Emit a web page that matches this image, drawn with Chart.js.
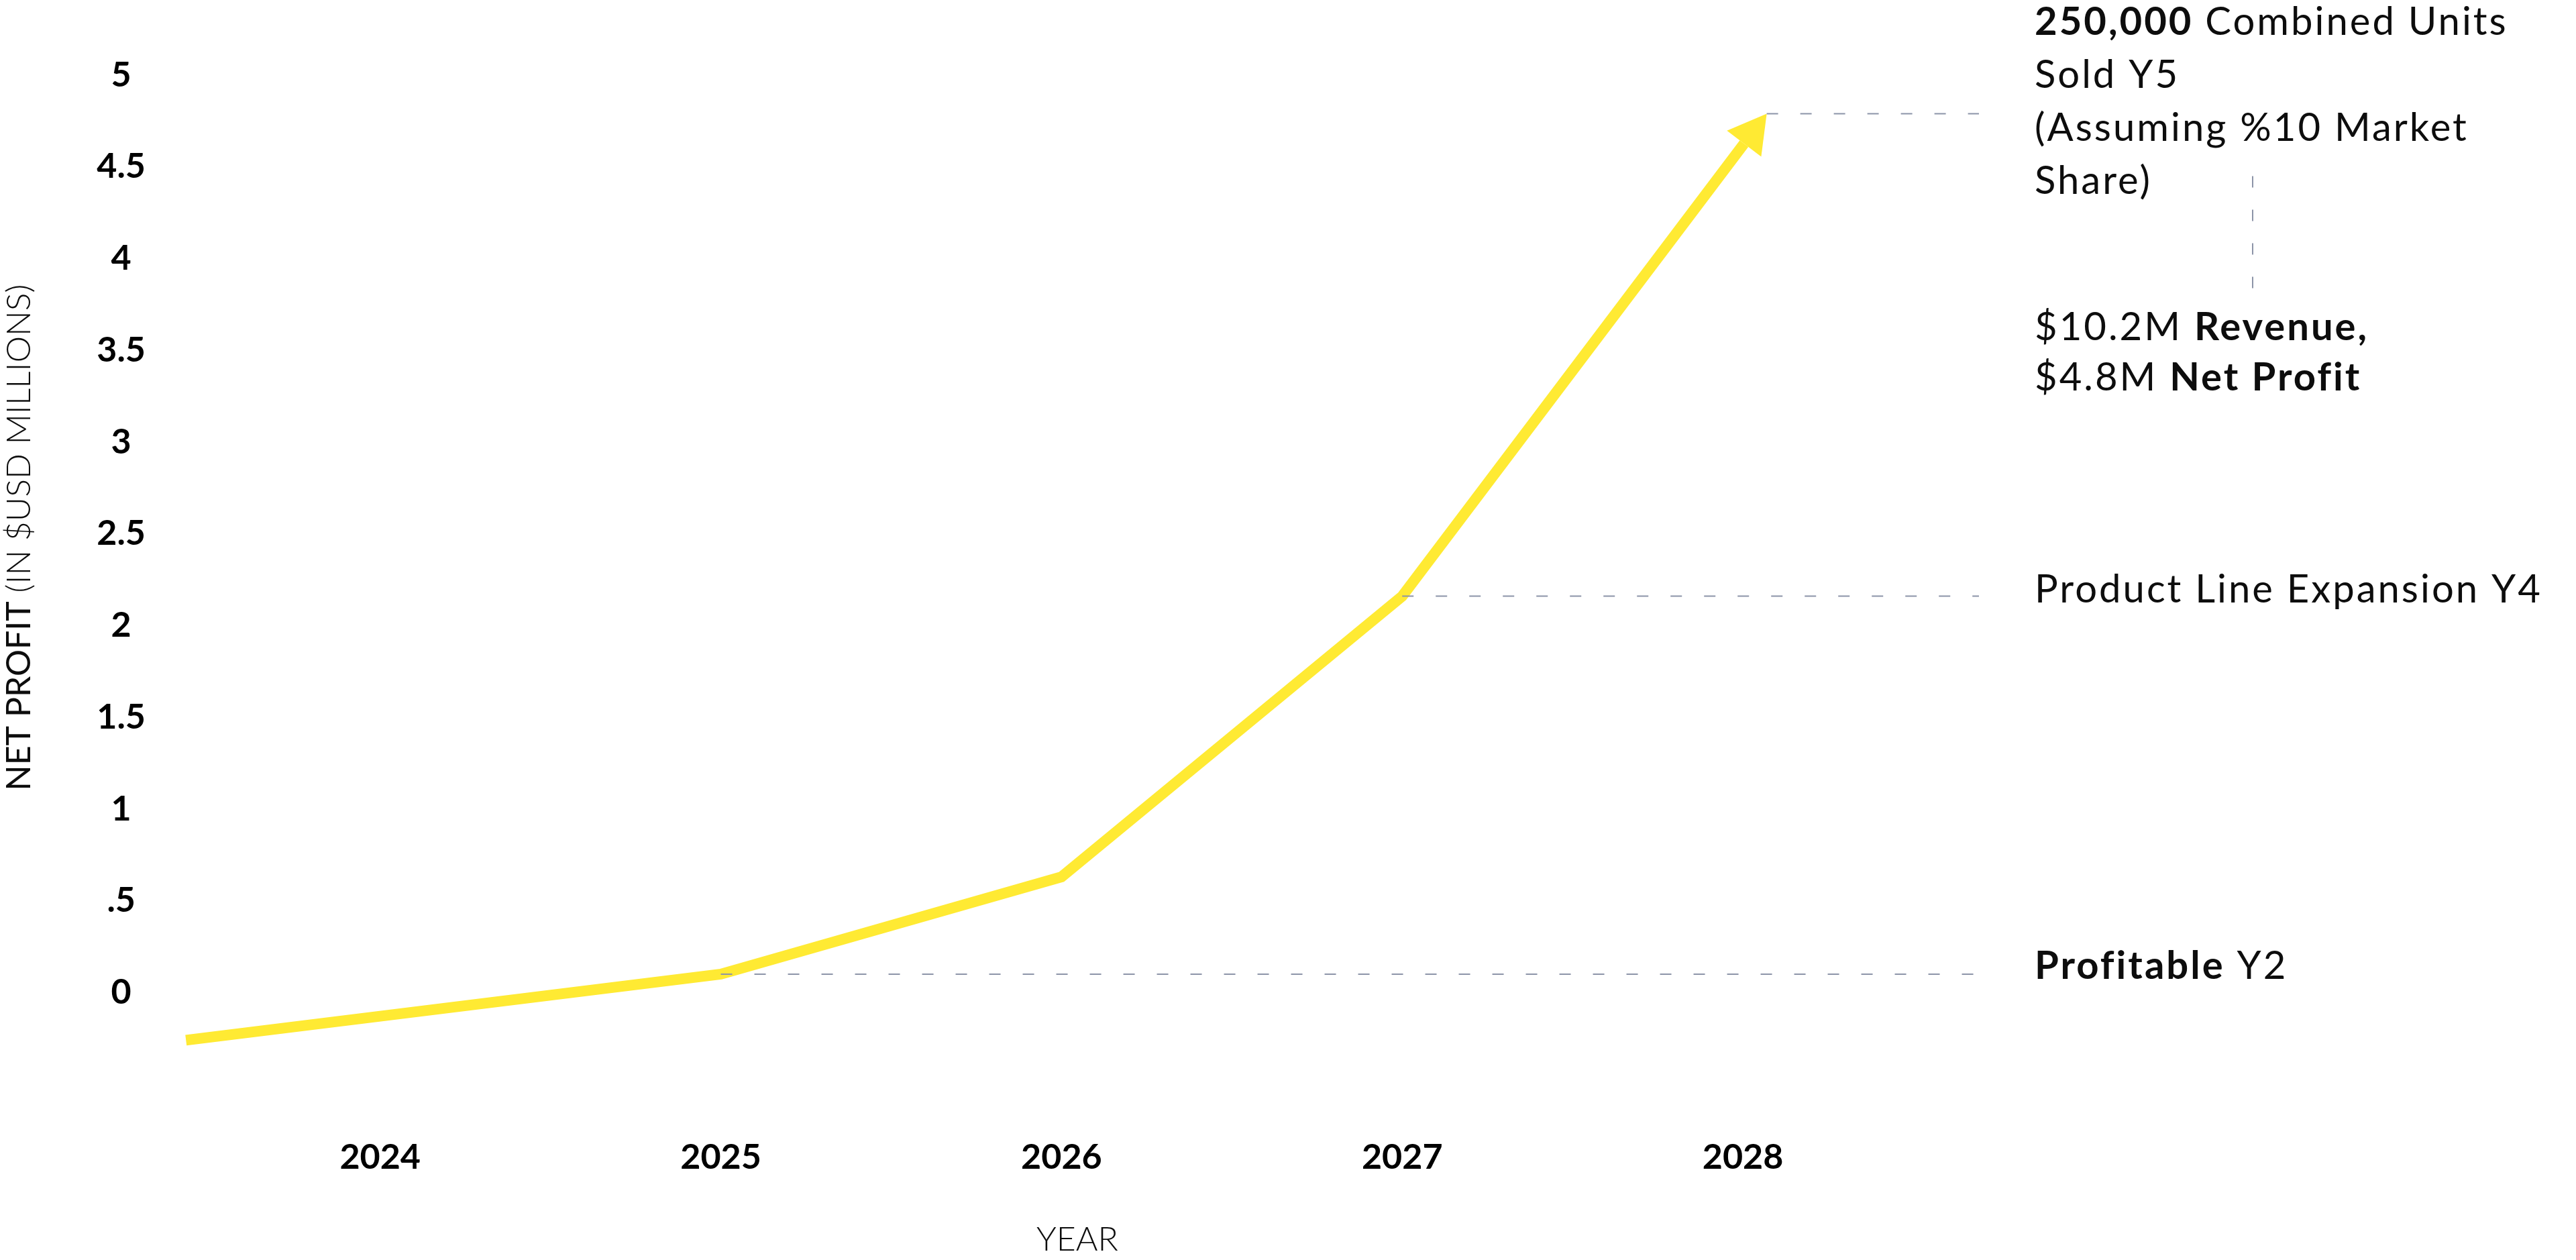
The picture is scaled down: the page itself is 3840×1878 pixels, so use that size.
<!DOCTYPE html>
<html>
<head>
<meta charset="utf-8">
<script src="https://cdn.jsdelivr.net/npm/chart.js@4.4.1/dist/chart.umd.min.js"></script>
<style>
  html, body { margin: 0; padding: 0; background: #fff; }
  #wrap { width: 3840px; height: 1878px; position: relative; }
</style>
</head>
<body>
<div id="wrap"><canvas id="profitChart"></canvas></div>
<script>
// line points (x in years, y in $M net profit)
const years = [2023.43, 2025, 2026, 2027, 2028.07];
const netProfit = [-0.26, 0.10, 0.63, 2.16, 4.79];

const xTickValues = [2024, 2025, 2026, 2027, 2028];
const xTickLabels = ['2024', '2025', '2026', '2027', '2028'];
const yTickValues = [0, 0.5, 1, 1.5, 2, 2.5, 3, 3.5, 4, 4.5, 5];
const yTickLabels = ['0', '.5', '1', '1.5', '2', '2.5', '3', '3.5', '4', '4.5', '5'];

const xTitle = 'YEAR';
const yTitle = [['NET PROFIT ', 400], ['(IN $USD MILLIONS)', 300]];

// notes on the right side, every line is a list of [text, weight] runs
const topNote = [
  [['250,000', 700], [' Combined Units', 400]],
  [['Sold Y5', 400]],
  [['(Assuming %10 Market', 400]],
  [['Share)', 400]]
];
const resultNote = [
  [['$10.2M ', 400], ['Revenue,', 700]],
  [['$4.8M ', 400], ['Net Profit', 700]]
];
const expansionNote = [['Product Line Expansion Y4', 400]];
const profitableNote = [['Profitable', 700], [' Y2', 400]];

const FONT = 'Lato';
const YELLOW = '#ffea33';
const DASH_GREY = '#8c94a8';
const TEXT = '#0d0d0d';
const NOTE_SIZE = 58;
const NOTE_SPACING = 3;
const ARROW_LEN = 56;
const ARROW_HALF = 32;

function drawRuns(ctx, runs, x, y, size, spacing) {
  let cx = x;
  ctx.letterSpacing = (spacing || 0) + 'px';
  for (const [text, weight] of runs) {
    ctx.font = weight + ' ' + size + 'px ' + FONT;
    ctx.fillText(text, cx, y);
    cx += ctx.measureText(text).width;
  }
  ctx.letterSpacing = '0px';
}

function runsWidth(ctx, runs, size) {
  let w = 0;
  for (const [text, weight] of runs) {
    ctx.font = weight + ' ' + size + 'px ' + FONT;
    w += ctx.measureText(text).width;
  }
  return w;
}

function dashed(ctx, x1, y1, x2, y2) {
  ctx.beginPath();
  ctx.moveTo(x1, y1);
  ctx.lineTo(x2, y2);
  ctx.stroke();
}

function arrowGeometry(chart) {
  const pts = chart.getDatasetMeta(0).data;
  const tip = pts[pts.length - 1];
  const prev = pts[pts.length - 2];
  const dx = tip.x - prev.x, dy = tip.y - prev.y;
  const len = Math.hypot(dx, dy);
  return { pts, tip, ux: dx / len, uy: dy / len };
}

const notesPlugin = {
  id: 'notes',
  beforeDatasetsDraw(chart) {
    // cut the line off where the arrow head starts
    const ctx = chart.ctx;
    const { tip, ux, uy } = arrowGeometry(chart);
    const bx = tip.x - ux * ARROW_LEN, by = tip.y - uy * ARROW_LEN;
    ctx.save();
    ctx.beginPath();
    ctx.rect(0, 0, chart.width, chart.height);
    ctx.moveTo(bx - uy * 40, by + ux * 40);
    ctx.lineTo(bx + uy * 40, by - ux * 40);
    ctx.lineTo(bx + uy * 40 + ux * 120, by - ux * 40 + uy * 120);
    ctx.lineTo(bx - uy * 40 + ux * 120, by + ux * 40 + uy * 120);
    ctx.closePath();
    ctx.clip('evenodd');
  },
  afterDatasetsDraw(chart) {
    const ctx = chart.ctx;
    ctx.restore();
    const { pts, tip, ux, uy } = arrowGeometry(chart);
    const area = chart.chartArea;

    // arrow head
    const bx = tip.x - ux * ARROW_LEN, by = tip.y - uy * ARROW_LEN;
    ctx.save();
    ctx.fillStyle = YELLOW;
    ctx.beginPath();
    ctx.moveTo(tip.x, tip.y);
    ctx.lineTo(bx - uy * ARROW_HALF, by + ux * ARROW_HALF);
    ctx.lineTo(bx + uy * ARROW_HALF, by - ux * ARROW_HALF);
    ctx.closePath();
    ctx.fill();

    // dashed guides
    ctx.strokeStyle = DASH_GREY;
    ctx.lineWidth = 2;
    ctx.setLineDash([17, 33]);
    for (const i of [1, 3, 4]) {
      dashed(ctx, pts[i].x, pts[i].y, area.right, pts[i].y);
    }
    const noteX = area.right + 83;
    dashed(ctx, noteX + 325, tip.y + 93, noteX + 325, tip.y + 262);
    ctx.setLineDash([]);

    // notes
    ctx.fillStyle = TEXT;
    ctx.textBaseline = 'alphabetic';
    ctx.textAlign = 'left';
    topNote.forEach((line, i) => drawRuns(ctx, line, noteX, tip.y - 117 + i * 79, NOTE_SIZE, NOTE_SPACING));
    resultNote.forEach((line, i) => drawRuns(ctx, line, noteX, tip.y + 338 + i * 75, NOTE_SIZE, NOTE_SPACING));
    drawRuns(ctx, expansionNote, noteX, pts[3].y + 9, NOTE_SIZE, NOTE_SPACING);
    drawRuns(ctx, profitableNote, noteX, pts[1].y + 7, NOTE_SIZE, NOTE_SPACING);

    // y axis title, two weights
    ctx.translate(29, 801);
    ctx.rotate(-Math.PI / 2);
    ctx.textBaseline = 'middle';
    const w = runsWidth(ctx, yTitle, 50);
    drawRuns(ctx, yTitle, -w / 2, 0, 50, 0);
    ctx.restore();
  }
};

Chart.defaults.font.family = FONT;
Chart.defaults.color = TEXT;

const ctx = document.getElementById('profitChart').getContext('2d');
new Chart(ctx, {
  type: 'line',
  data: {
    datasets: [{
      data: years.map((x, i) => ({ x: x, y: netProfit[i] })),
      borderColor: YELLOW,
      borderWidth: 16,
      borderCapStyle: 'butt',
      borderJoinStyle: 'miter',
      pointRadius: 0,
      pointHoverRadius: 0,
      tension: 0,
      fill: false
    }]
  },
  options: {
    responsive: true,
    maintainAspectRatio: false,
    devicePixelRatio: 1,
    animation: false,
    events: [],
    layout: { padding: { top: 112, right: 890, left: 0, bottom: 0 } },
    plugins: {
      legend: { display: false },
      tooltip: { enabled: false }
    },
    scales: {
      x: {
        type: 'linear',
        min: 2023.4,
        max: 2028.693,
        border: { display: false },
        grid: { display: false, drawTicks: false },
        afterBuildTicks: (scale) => { scale.ticks = xTickValues.map(v => ({ value: v })); },
        afterFit: (scale) => { scale.height = 262; },
        ticks: {
          autoSkip: false,
          maxRotation: 0,
          padding: 78,
          color: '#000',
          font: { size: 52, weight: 'bold' },
          callback: (value, index) => xTickLabels[index]
        },
        title: {
          display: true,
          text: xTitle,
          color: TEXT,
          font: { size: 50, weight: 300 },
          padding: { top: 0, bottom: 0 }
        }
      },
      y: {
        type: 'linear',
        min: -0.5,
        max: 5,
        border: { display: false },
        grid: { display: false, drawTicks: false },
        afterBuildTicks: (scale) => { scale.ticks = yTickValues.map(v => ({ value: v })); },
        afterFit: (scale) => { scale.width = 262; },
        ticks: {
          autoSkip: false,
          crossAlign: 'center',
          padding: 45,
          color: '#000',
          font: { size: 52, weight: 'bold' },
          callback: (value, index) => yTickLabels[index]
        }
      }
    }
  },
  plugins: [notesPlugin]
});
</script>
</body>
</html>
